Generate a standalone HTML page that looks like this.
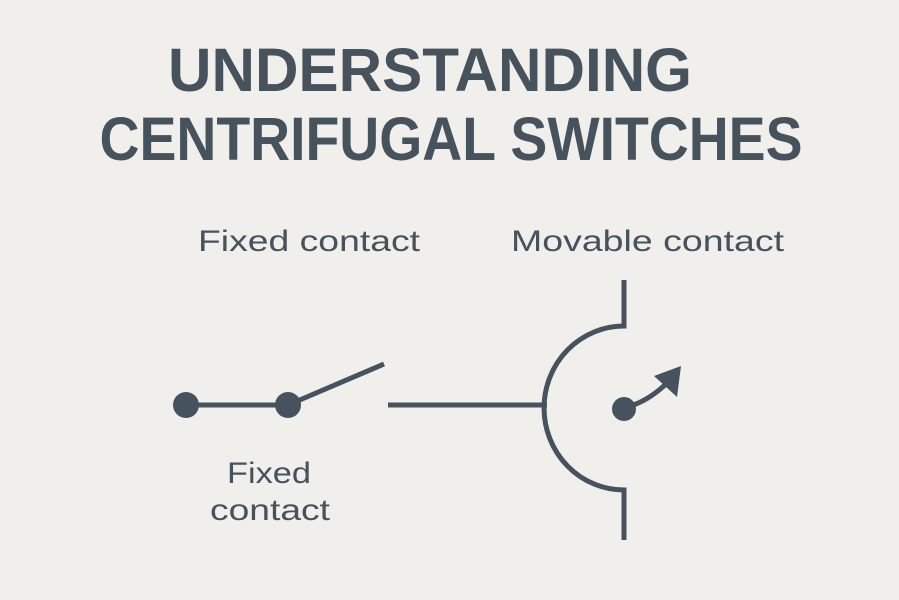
<!DOCTYPE html>
<html><head><style>
body{margin:0;width:899px;height:600px;background:#f1efec;overflow:hidden}
svg{display:block}
text{font-family:"Liberation Sans",sans-serif;fill:#46525c}
</style></head><body>
<svg width="899" height="600" viewBox="0 0 899 600">
<text x="430" y="91" text-anchor="middle" font-size="61" font-weight="bold" textLength="524" lengthAdjust="spacingAndGlyphs">UNDERSTANDING</text>
<text x="451" y="160" text-anchor="middle" font-size="61" font-weight="bold" textLength="703" lengthAdjust="spacingAndGlyphs">CENTRIFUGAL SWITCHES</text>
<text x="198" y="251" font-size="30" textLength="222" lengthAdjust="spacingAndGlyphs">Fixed contact</text>
<text x="511" y="251" font-size="30" textLength="273" lengthAdjust="spacingAndGlyphs">Movable contact</text>
<text x="269" y="483" text-anchor="middle" font-size="30" textLength="84" lengthAdjust="spacingAndGlyphs">Fixed</text>
<text x="270" y="520" text-anchor="middle" font-size="30" textLength="120" lengthAdjust="spacingAndGlyphs">contact</text>
<g stroke="#46535e" stroke-width="5" fill="none">
<line x1="186" y1="405" x2="288" y2="405"/>
<line x1="288" y1="405" x2="384" y2="364"/>
<line x1="388" y1="405" x2="547" y2="405"/>
<path d="M624 280 V326 A80 82 0 0 0 624 490 V540"/>
<path d="M624 408 Q648 402 668 382"/>
</g>
<circle cx="186" cy="405" r="13" fill="#46535e"/>
<circle cx="288" cy="405" r="13" fill="#46535e"/>
<circle cx="624" cy="409" r="12" fill="#46535e"/>
<polygon points="681,366 677,397 654,376" fill="#46535e"/>
</svg>
</body></html>
